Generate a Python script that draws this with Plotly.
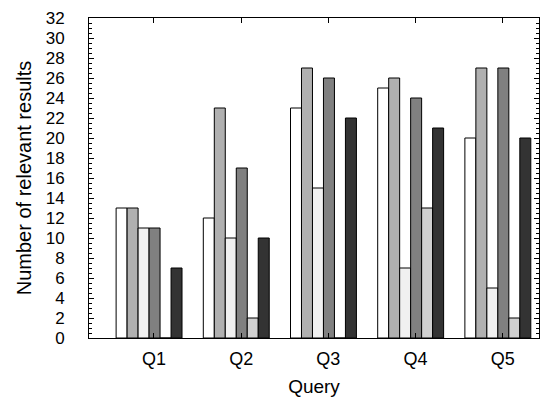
import plotly.graph_objects as go

queries = ["Q1", "Q2", "Q3", "Q4", "Q5"]
series_a = [13, 12, 23, 25, 20]
series_b = [13, 23, 27, 26, 27]
series_c = [11, 10, 15, 7, 5]
series_d = [11, 17, 26, 24, 27]
series_e = [0, 2, 0, 13, 2]
series_f = [7, 10, 22, 21, 20]
y_ticks = list(range(0, 33, 2))

series = [series_a, series_b, series_c, series_d, series_e, series_f]
colors = ["#ffffff", "#b0b0b0", "#f0f0f0", "#808080", "#d0d0d0", "#333333"]

bw = 0.126
start = -0.434
xs = list(range(len(queries)))

fig = go.Figure()
for j, (vals, col) in enumerate(zip(series, colors)):
    fig.add_trace(go.Bar(
        x=xs, y=vals, width=bw, offset=start + j * bw,
        marker=dict(color=col, line=dict(color="#000000", width=1)),
        showlegend=False,
    ))

fam = "Liberation Sans, Arial, sans-serif"
tickfont_y = dict(family=fam, size=17, color="#000000")
tickfont_x = dict(family=fam, size=18, color="#000000")
titlefont_y = dict(family=fam, size=20, color="#000000")
titlefont_x = dict(family=fam, size=19, color="#000000")
fig.update_layout(
    barmode="overlay",
    width=541, height=402,
    margin=dict(l=89, r=2, t=18, b=64),
    plot_bgcolor="#ffffff", paper_bgcolor="#ffffff",
    xaxis=dict(
        range=[-0.745, 4.416],
        tickvals=xs, ticktext=queries,
        ticks="inside", ticklen=5, tickcolor="#000000", tickwidth=1,
        mirror="ticks", showline=True, linecolor="#000000", linewidth=1,
        showgrid=False, zeroline=False, automargin=False,
        ticklabelstandoff=4,
        title=dict(text="Query", font=titlefont_x, standoff=12),
        tickfont=tickfont_x,
    ),
    yaxis=dict(
        range=[0, 32],
        tickvals=y_ticks,
        ticks="inside", ticklen=5, tickcolor="#000000", tickwidth=1,
        minor=dict(dtick=0.5, ticks="inside", ticklen=3, tickcolor="#000000", tickwidth=1),
        mirror="ticks", showline=True, linecolor="#000000", linewidth=1,
        showgrid=False, zeroline=False, automargin=False,
        ticklabelstandoff=20,
        title=dict(text="Number of relevant results", font=titlefont_y, standoff=8),
        tickfont=tickfont_y,
    ),
)
fig.write_html(
    "out.html",
    config={"displayModeBar": False},
    post_script="document.body.style.margin='0';document.body.style.overflow='hidden';",
)
